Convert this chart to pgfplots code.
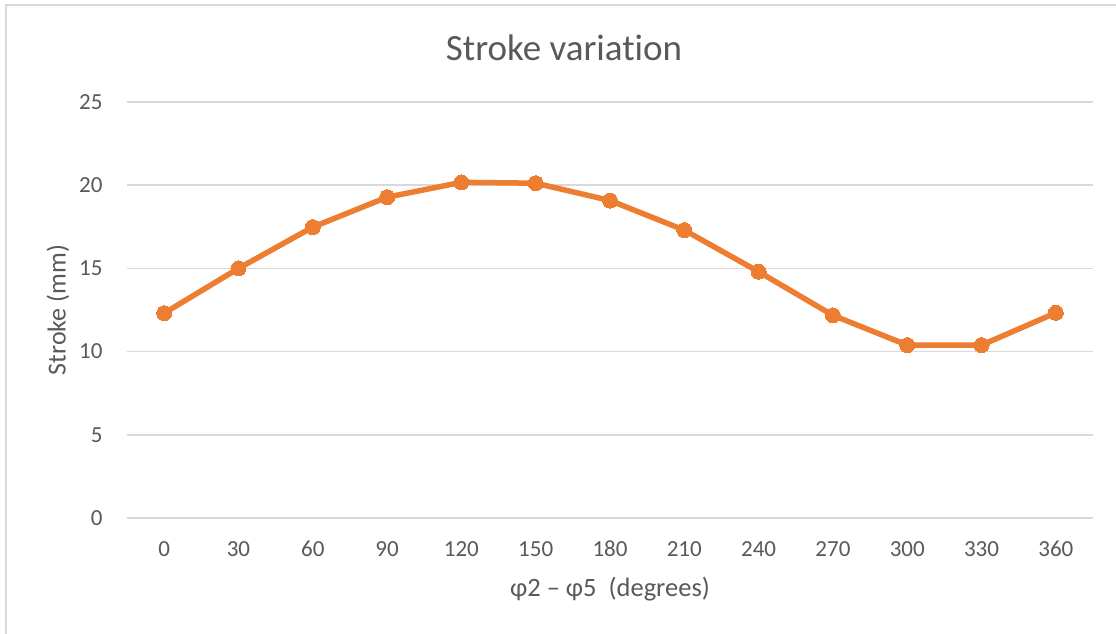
\documentclass[border=0pt]{standalone}
\usepackage{fontspec}
\setmainfont{Carlito}[Ligatures=NoCommon]
\usepackage{pgfplots}
\pgfplotsset{compat=1.18}
\definecolor{exorange}{RGB}{237,125,49}
\definecolor{txtgray}{RGB}{89,89,89}
\definecolor{gridgray}{RGB}{217,217,217}
\begin{document}
\begin{tikzpicture}
\useasboundingbox (0,0) rectangle (1116pt,634pt);
\fill[white] (0,0) rectangle (1116pt,634pt);
\draw[gridgray, line width=2pt] (6pt,0) -- (6pt,629pt) -- (1116pt,629pt);
\begin{axis}[
  at={(127pt,116pt)}, anchor=south west,
  scale only axis, width=966pt, height=416pt,
  xmin=-15, xmax=375, ymin=0, ymax=25,
  xtick={0,30,...,360}, ytick={0,5,...,25},
  major tick length=0pt,
  axis line style={draw=none},
  ymajorgrids, grid style={gridgray, line width=1.6pt},
  /pgf/number format/assume math mode=true,
  ticklabel style={font=\fontsize{23}{23}\selectfont, text=txtgray},
  xticklabel style={anchor=base, yshift=-38pt},
  yticklabel style={anchor=east, xshift=-21pt},
  xlabel={φ2 – φ5~ (degrees)},
  xlabel style={font=\fontsize{26.5}{26.5}\selectfont, text=txtgray, at={(axis description cs:0.5,0)}, anchor=base, yshift=-78pt},
  ylabel={Stroke (mm)},
  ylabel style={font=\fontsize{26}{26}\selectfont, text=txtgray, at={(axis description cs:-0.0714,0.5)}, anchor=center},
  clip=false,
]
\addplot[exorange, line width=5.5pt, mark=*, mark size=7.5pt, mark options={line width=0pt, fill=exorange, draw=exorange}]
coordinates {
(0,12.31) (30,15.0) (60,17.48) (90,19.28) (120,20.17) (150,20.12) (180,19.08) (210,17.30) (240,14.80) (270,12.18) (300,10.39) (330,10.39) (360,12.33)
};
\end{axis}
\node[anchor=base, text=txtgray, font=\fontsize{37}{37}\selectfont] at (564pt,573pt) {Stroke variation};
\end{tikzpicture}
\end{document}
